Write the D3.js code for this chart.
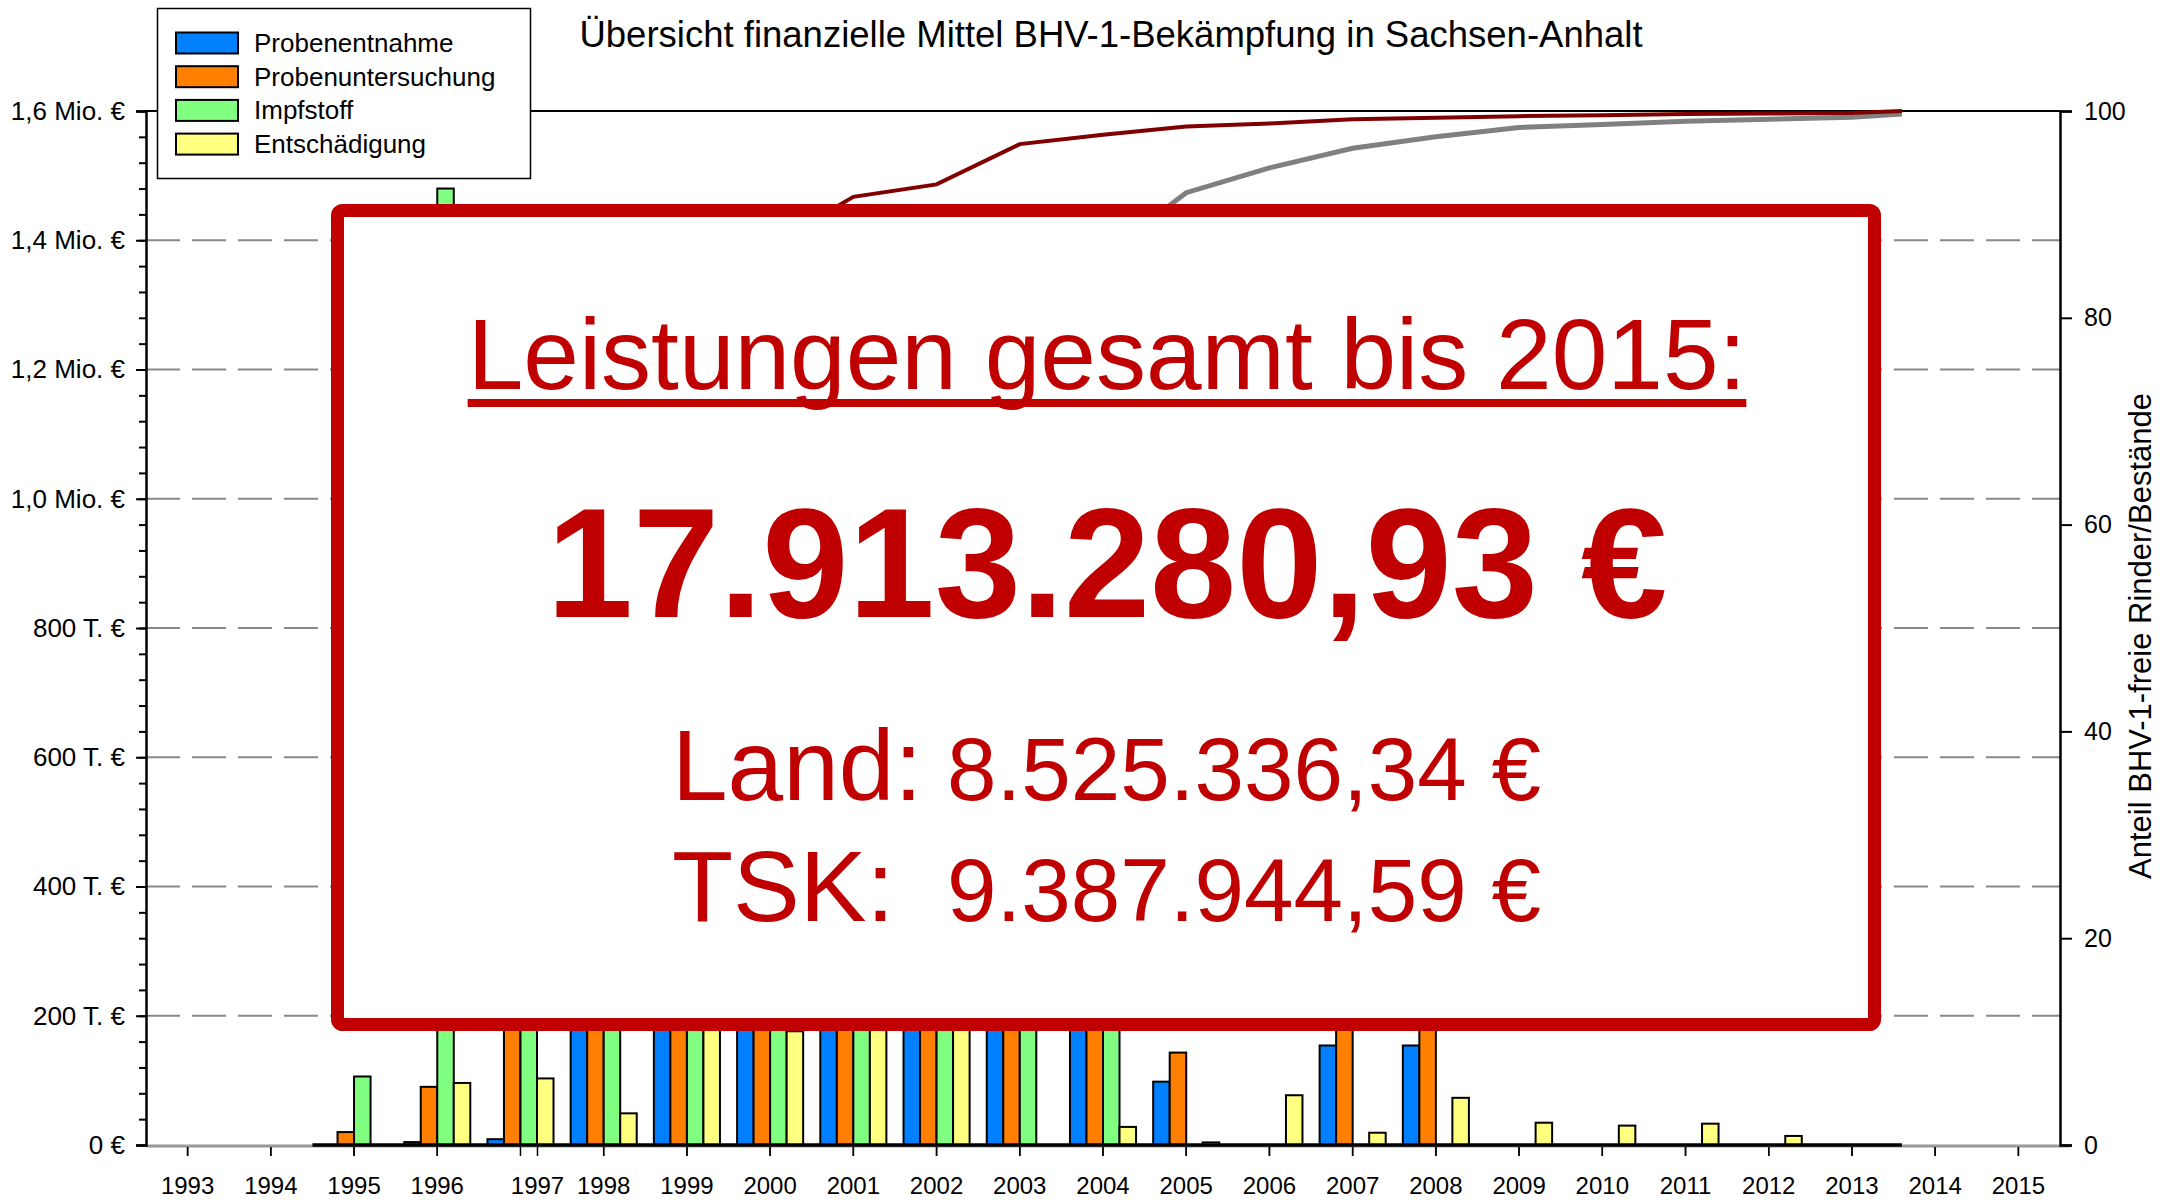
<!DOCTYPE html>
<html>
<head>
<meta charset="utf-8">
<script src="https://cdn.jsdelivr.net/npm/d3@7/dist/d3.min.js"></script>
<style>
  body { margin: 0; background: #fff; }
  svg { display: block; }
  text { font-family: "Liberation Sans", Arial, Helvetica, sans-serif; }
</style>
</head>
<body>
<svg id="chart" width="2177" height="1200"></svg>
<script>
// ---- data ----
const years = [1993, 1994, 1995, 1996, 1997, 1998, 1999, 2000, 2001, 2002, 2003, 2004,
               2005, 2006, 2007, 2008, 2009, 2010, 2011, 2012, 2013, 2014, 2015];
const seriesNames = ['Probenentnahme', 'Probenuntersuchung', 'Impfstoff', 'Entschädigung'];
const seriesColors = ['#0080ff', '#ff8000', '#80ff80', '#ffff80'];

// Euro per year (bars hidden behind the red box are estimates)
const probenentnahme =     [0, 0, 0, 4500, 9000, 420000, 560000, 610000, 650000, 640000, 600000, 520000,
                            98000, 0, 154000, 154000, 0, 0, 0, 0, 0, 0, 0];
const probenuntersuchung = [0, 0, 20000, 90000, 380000, 620000, 700000, 720000, 760000, 740000, 700000, 600000,
                            143000, 0, 240000, 230000, 0, 0, 0, 0, 0, 0, 0];
const impfstoff =          [0, 0, 106000, 1480000, 900000, 700000, 640000, 600000, 500000, 420000, 380000, 300000,
                            0, 0, 0, 0, 0, 0, 0, 0, 0, 0, 0];
const entschaedigung =     [0, 0, 0, 96000, 103000, 49000, 260000, 176000, 240000, 220000, 0, 28000,
                            4000, 77000, 19000, 73000, 34500, 30000, 33000, 14000, 0, 0, 0];

// Anteil BHV-1-freie Rinder / Bestaende in % (right axis)
const lineYears =  [1995, 1996, 1997, 1998, 1999, 2000, 2001, 2002, 2003, 2004, 2005, 2006, 2007,
                    2008, 2009, 2010, 2011, 2012, 2013, 2013.6];
const rinderFrei = [25, 35, 48, 60, 74, 87, 91.7, 92.9, 96.8, 97.7, 98.5, 98.8, 99.2,
                    99.35, 99.5, 99.6, 99.7, 99.75, 99.8, 100];
const bestaendeFrei = [15, 22, 30, 40, 50, 60, 68, 75, 81, 86, 92.1, 94.5, 96.4,
                       97.5, 98.4, 98.7, 99.0, 99.2, 99.4, 99.7];
const zeroSpan = [1994.5, 2013.6];

const leftTicks = [0, 200000, 400000, 600000, 800000, 1000000, 1200000, 1400000, 1600000];
const rightTicks = [0, 20, 40, 60, 80, 100];

const title = 'Übersicht finanzielle Mittel BHV-1-Bekämpfung in Sachsen-Anhalt';
const rightTitle = 'Anteil BHV-1-freie Rinder/Bestände';
const boxHeading = 'Leistungen gesamt bis 2015:';
const boxTotal = '17.913.280,93 €';
const boxRows = [['Land:', '8.525.336,34 €'], ['TSK:', '9.387.944,59 €']];

// ---- layout ----
const margin = { left: 146, right: 2060, top: 111, bottom: 1145 };
const svg = d3.select('#chart');
const red = '#c00000';

const x = d3.scaleBand().domain(years).range([margin.left, margin.right]).padding(0);
const step = x.bandwidth();
const xs = d3.scaleBand().domain(seriesNames).range([step * 0.103, step * 0.897]).padding(0);
const xLin = d3.scaleLinear().domain([1993, 2015]).range([x(1993) + step / 2, x(2015) + step / 2]);
const y = d3.scaleLinear().domain([0, 1600000]).range([margin.bottom, margin.top]);
const yR = d3.scaleLinear().domain([0, 100]).range([margin.bottom, margin.top]);

// gridlines
svg.append('g')
  .selectAll('line')
  .data(leftTicks.filter(d => d > 0 && d < 1600000))
  .enter().append('line')
  .attr('x1', margin.left).attr('x2', margin.right)
  .attr('y1', d => y(d)).attr('y2', d => y(d))
  .style('stroke', '#888').style('stroke-width', 2)
  .style('stroke-dasharray', '34,12');

// top frame line
svg.append('line')
  .attr('x1', margin.left).attr('x2', margin.right)
  .attr('y1', y(1600000)).attr('y2', y(1600000))
  .style('stroke', '#000').style('stroke-width', 2);

// x axis baseline (grey)
svg.append('line')
  .attr('x1', margin.left).attr('x2', margin.right + 10)
  .attr('y1', y(0) + 1).attr('y2', y(0) + 1)
  .style('stroke', '#999').style('stroke-width', 3);

// left axis
const fmtLeft = v => v === 0 ? '0 €'
  : v >= 1000000 ? (v / 1000000).toFixed(1).replace('.', ',') + ' Mio. €'
  : (v / 1000) + ' T. €';

const gMinor = svg.append('g').attr('transform', `translate(${margin.left},0)`)
  .call(d3.axisLeft(y).tickValues(d3.range(0, 1600001, 40000)).tickSize(7).tickFormat(''));
gMinor.select('.domain').remove();
gMinor.selectAll('line').style('stroke', '#000').style('stroke-width', 2);

const gLeft = svg.append('g').attr('transform', `translate(${margin.left},0)`)
  .call(d3.axisLeft(y).tickValues(leftTicks).tickSize(10).tickPadding(11).tickFormat(fmtLeft));
gLeft.select('.domain').style('stroke', '#000').style('stroke-width', 2.5);
gLeft.selectAll('line').style('stroke', '#000').style('stroke-width', 2);
gLeft.selectAll('text').style('font-size', '26px').style('fill', '#000')
  .style('font-family', '"Liberation Sans", Arial, sans-serif');

// right axis
const gRight = svg.append('g').attr('transform', `translate(${margin.right},0)`)
  .call(d3.axisRight(yR).tickValues(rightTicks).tickSize(12).tickPadding(12));
gRight.select('.domain').style('stroke', '#000').style('stroke-width', 2.5);
gRight.selectAll('line').style('stroke', '#000').style('stroke-width', 2);
gRight.selectAll('text').style('font-size', '25px').style('fill', '#000')
  .style('font-family', '"Liberation Sans", Arial, sans-serif');

svg.append('text')
  .attr('transform', `translate(2151, 636) rotate(-90)`)
  .attr('text-anchor', 'middle')
  .style('font-size', '31px')
  .text(rightTitle);

// x axis ticks + labels
const labelShift = { 1997: 17 };
const gx = svg.append('g');
years.forEach(yr => {
  const cx = x(yr) + step / 2;
  const lx = cx + (labelShift[yr] || 0);
  [cx, lx].forEach(px => {
    gx.append('line')
      .attr('x1', px).attr('x2', px)
      .attr('y1', y(0) + 2).attr('y2', y(0) + 11)
      .style('stroke', '#000').style('stroke-width', 1.5);
  });
  gx.append('text')
    .attr('x', lx).attr('y', 1194)
    .attr('text-anchor', 'middle')
    .style('font-size', '24px')
    .text(yr);
});

// bars
const allSeries = [probenentnahme, probenuntersuchung, impfstoff, entschaedigung];
const barData = [];
years.forEach((yr, i) => {
  seriesNames.forEach((s, j) => {
    barData.push({ year: yr, series: s, value: allSeries[j][i], color: seriesColors[j] });
  });
});

svg.append('g')
  .selectAll('rect')
  .data(barData.filter(d => d.year >= 1995 && d.year <= 2013))
  .enter().append('rect')
  .attr('x', d => x(d.year) + xs(d.series))
  .attr('width', xs.bandwidth())
  .attr('y', d => y(d.value))
  .attr('height', d => y(0) - y(d.value))
  .style('fill', d => d.color)
  .style('stroke', '#000')
  .style('stroke-width', 2);

// zero line of the series
svg.append('line')
  .attr('x1', xLin(zeroSpan[0])).attr('x2', xLin(zeroSpan[1]))
  .attr('y1', y(0)).attr('y2', y(0))
  .style('stroke', '#000').style('stroke-width', 3.5);

// share lines
const lineGen = vals => d3.line()
  .x((d, i) => xLin(lineYears[i]))
  .y(d => yR(d))(vals);

svg.append('path')
  .attr('d', lineGen(bestaendeFrei))
  .style('fill', 'none').style('stroke', '#808080').style('stroke-width', 5);
svg.append('path')
  .attr('d', lineGen(rinderFrei))
  .style('fill', 'none').style('stroke', '#800000').style('stroke-width', 4);

// red summary box
const box = { x0: 337.5, y0: 210.5, x1: 1874.5, y1: 1024.5 };
svg.append('rect')
  .attr('x', box.x0).attr('y', box.y0)
  .attr('width', box.x1 - box.x0).attr('height', box.y1 - box.y0)
  .attr('rx', 5)
  .style('fill', '#fff').style('stroke', red).style('stroke-width', 13);

const cxBox = 1107;
const heading = svg.append('text')
  .attr('x', cxBox).attr('y', 389)
  .attr('text-anchor', 'middle')
  .style('font-size', '100px').style('fill', red)
  .text(boxHeading);
const hb = heading.node().getBBox();
svg.append('rect')
  .attr('x', hb.x).attr('y', 399)
  .attr('width', hb.width).attr('height', 8)
  .style('fill', red);

svg.append('text')
  .attr('x', cxBox).attr('y', 617)
  .attr('text-anchor', 'middle')
  .style('font-size', '155px').style('font-weight', 'bold').style('fill', red)
  .text(boxTotal);

const rowY = [800, 921];
boxRows.forEach((r, i) => {
  svg.append('text')
    .attr('x', 672).attr('y', rowY[i])
    .style('font-size', '100px').style('fill', red)
    .text(r[0]);
  svg.append('text')
    .attr('x', 1541).attr('y', rowY[i])
    .attr('text-anchor', 'end')
    .style('font-size', '89px').style('fill', red)
    .text(r[1]);
});

// legend
const legend = svg.append('g');
legend.append('rect')
  .attr('x', 157.5).attr('y', 8.5).attr('width', 373).attr('height', 170)
  .style('fill', '#fff').style('stroke', '#000').style('stroke-width', 1.5);
seriesNames.forEach((s, i) => {
  const cy = 43 + i * 33.7;
  legend.append('rect')
    .attr('x', 176).attr('y', cy - 10.5).attr('width', 62).attr('height', 21)
    .style('fill', seriesColors[i]).style('stroke', '#000').style('stroke-width', 2);
  legend.append('text')
    .attr('x', 254).attr('y', cy + 9)
    .style('font-size', '26px')
    .text(s);
});

// title
svg.append('text')
  .attr('x', 1111).attr('y', 47)
  .attr('text-anchor', 'middle')
  .style('font-size', '36.5px')
  .text(title);
</script>
</body>
</html>
